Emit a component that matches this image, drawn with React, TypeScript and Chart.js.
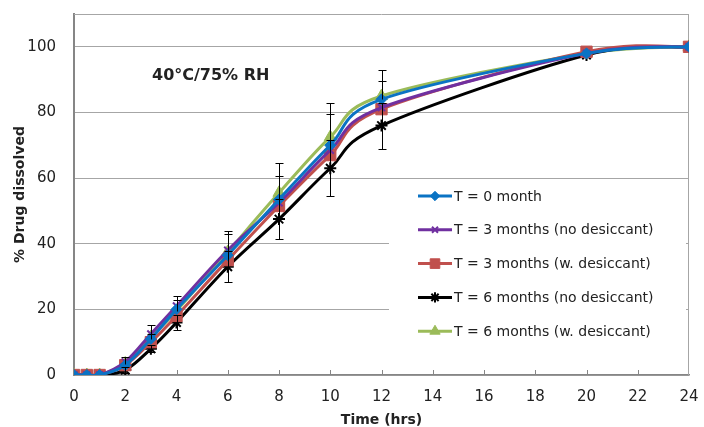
import React, { useEffect, useRef } from 'react';
import { Chart, registerables } from 'chart.js';
import * as helpers from 'chart.js/helpers';

Chart.register(...registerables);

// ---- data ----
const timeHrs = [0, 0.5, 1, 2, 3, 4, 6, 8, 10, 12, 20, 24];
const t0Month = [0, 0, 0, 3, 11, 20, 36.5, 53.5, 70, 84, 98, 100];
const t3NoDesiccant = [0, 0, 0, 4, 12.5, 21, 38, 52.5, 68.5, 81.5, 98, 100];
const t3WithDesiccant = [0, 0, 0, 3, 10, 18, 35, 51.5, 67, 81, 98.5, 100];
const t6NoDesiccant = [0, 0, 0, 1.5, 8, 16, 33, 47.5, 63, 76, 97.5, 100];
const t6WithDesiccant = [0, 0, 0, 3.5, 11.5, 19.5, 37.5, 55.5, 72.5, 85, 98, 100];

const t0ErrPlus = [0, 0, 0, 0, 1.5, 3, 6.4, 7, 9.6, 5.7, 0, 0];
const t6WithErrPlus = [0, 0, 0, 2, 3.7, 4.5, 6.5, 9, 10.5, 8, 0, 0];
const t6NoErr = [0, 0, 0, 1, 1, 2.2, 4.7, 6.2, 8.6, 7, 0, 0];

const seriesLabels = [
  'T = 0 month',
  'T = 3 months (no desiccant)',
  'T = 3 months (w. desiccant)',
  'T = 6 months (no desiccant)',
  'T = 6 months (w. desiccant)',
];
const xTicks = [0, 2, 4, 6, 8, 10, 12, 14, 16, 18, 20, 22, 24];
const yTicks = [0, 20, 40, 60, 80, 100];
const chartNote = '40°C/75% RH';
const xTitle = 'Time (hrs)';
const yTitle = '% Drug dissolved';

const FONT = '"DejaVu Sans", Verdana, sans-serif';

const styles = [
  { color: '#0a73c4', pointStyle: 'rectRot', radius: 5.5, fill: true },
  { color: '#7030a0', pointStyle: 'crossRot', radius: 5, fill: false },
  { color: '#c0504d', pointStyle: 'rect', radius: 8, fill: true },
  { color: '#000000', pointStyle: 'star', radius: 6, fill: false },
  { color: '#9bbb59', pointStyle: 'triangle', radius: 7, fill: true },
];
const seriesValues = [t0Month, t3NoDesiccant, t3WithDesiccant, t6NoDesiccant, t6WithDesiccant];
const errorSpecs = [
  { series: 0, err: t0ErrPlus, minus: false },
  { series: 4, err: t6WithErrPlus, minus: false },
  { series: 3, err: t6NoErr, minus: true },
];

// Excel-style smoothing: Bezier control points at +-(next - prev)/6
const smoothPlugin = {
  id: 'excelSmooth',
  beforeDatasetsDraw(chart: any) {
    chart.data.datasets.forEach((_: any, di: number) => {
      const meta = chart.getDatasetMeta(di);
      const pts = meta.data;
      const n = pts.length;
      for (let i = 0; i < n; i++) {
        const p = pts[i];
        const prev = pts[Math.max(0, i - 1)];
        const next = pts[Math.min(n - 1, i + 1)];
        const tx = (next.x - prev.x) / 6;
        const ty = (next.y - prev.y) / 6;
        p.cp1x = p.x - tx;
        p.cp1y = p.y - ty;
        p.cp2x = p.x + tx;
        p.cp2y = p.y + ty;
      }
      if (meta.dataset) {
        meta.dataset._pointsUpdated = true;
        meta.dataset._path = undefined;
      }
    });
  },
};

const overlayPlugin = {
  id: 'overlay',
  beforeDatasetsDraw(chart: any) {
    const { ctx, chartArea: a } = chart;
    ctx.save();
    ctx.strokeStyle = '#a6a6a6';
    ctx.lineWidth = 1;
    ctx.beginPath();
    ctx.moveTo(a.left, Math.round(a.top) + 0.5);
    ctx.lineTo(a.right, Math.round(a.top) + 0.5);
    ctx.moveTo(Math.round(a.right) - 0.5, a.top);
    ctx.lineTo(Math.round(a.right) - 0.5, a.bottom);
    ctx.stroke();
    // inward ticks on x axis
    const xs = chart.scales.x;
    ctx.strokeStyle = '#868686';
    ctx.beginPath();
    xTicks.forEach((v) => {
      if (v === 0 || v === 24) return;
      const px = Math.round(xs.getPixelForValue(v)) + 0.5;
      ctx.moveTo(px, a.bottom);
      ctx.lineTo(px, a.bottom - 5);
    });
    ctx.stroke();
    ctx.restore();
  },
  afterDatasetsDraw(chart: any) {
    const { ctx } = chart;
    const xs = chart.scales.x;
    const ys = chart.scales.y;
    ctx.save();
    ctx.strokeStyle = '#000';
    ctx.lineWidth = 1;
    errorSpecs.forEach((spec) => {
      const vals = seriesValues[spec.series];
      spec.err.forEach((e, j) => {
        if (!e) return;
        const px = Math.round(xs.getPixelForValue(timeHrs[j])) + 0.5;
        const yTop = Math.round(ys.getPixelForValue(vals[j] + e)) + 0.5;
        const yBot = Math.round(ys.getPixelForValue(spec.minus ? vals[j] - e : vals[j])) + 0.5;
        ctx.beginPath();
        ctx.moveTo(px, yTop);
        ctx.lineTo(px, yBot);
        ctx.moveTo(px - 4, yTop);
        ctx.lineTo(px + 4, yTop);
        if (spec.minus) {
          ctx.moveTo(px - 4, yBot);
          ctx.lineTo(px + 4, yBot);
        }
        ctx.stroke();
      });
    });
    ctx.restore();
  },
  afterDraw(chart: any) {
    const { ctx } = chart;
    ctx.save();
    // note
    ctx.fillStyle = '#222';
    ctx.font = `bold 16px ${FONT}`;
    ctx.textBaseline = 'middle';
    ctx.textAlign = 'left';
    ctx.fillText(chartNote, 152, 76);
    // legend
    ctx.fillStyle = '#ffffff';
    ctx.fillRect(389, 181, 297, 165);
    const startY = 196;
    const step = 33.8;
    seriesLabels.forEach((label, i) => {
      const st = styles[i];
      const y = startY + i * step;
      ctx.strokeStyle = st.color;
      ctx.lineWidth = 3;
      ctx.beginPath();
      ctx.moveTo(418, y);
      ctx.lineTo(452, y);
      ctx.stroke();
      ctx.fillStyle = st.color;
      ctx.strokeStyle = st.color;
      ctx.lineWidth = st.fill ? 1 : 2;
      (helpers as any).drawPoint(ctx, { pointStyle: st.pointStyle, radius: st.radius * 0.85, rotation: 0, borderWidth: st.fill ? 1 : 2 }, 435, y);
      ctx.fillStyle = '#222';
      ctx.font = `14px ${FONT}`;
      ctx.textAlign = 'left';
      ctx.textBaseline = 'middle';
      ctx.fillText(label, 454, y + 1);
    });
    ctx.restore();
  },
};

export default function App() {
  const ref = useRef<HTMLCanvasElement>(null);
  useEffect(() => {
    if (!ref.current) return;
    Chart.defaults.font.family = FONT;
    const datasets = seriesLabels.map((label, i) => ({
      label,
      data: timeHrs.map((t, j) => ({ x: t, y: seriesValues[i][j] })),
      borderColor: styles[i].color,
      backgroundColor: styles[i].color,
      pointBackgroundColor: styles[i].color,
      pointBorderColor: styles[i].color,
      pointStyle: styles[i].pointStyle,
      pointRadius: styles[i].radius,
      pointBorderWidth: styles[i].fill ? 1 : 2,
      borderWidth: 3,
      tension: 0.4,
      fill: false,
    }));
    const chart = new Chart(ref.current, {
      type: 'line',
      data: { datasets },
      plugins: [smoothPlugin, overlayPlugin],
      options: {
        animation: false,
        responsive: false,
        devicePixelRatio: 1,
        layout: { padding: { top: 14, right: 15, left: 0, bottom: 0 } },
        plugins: { legend: { display: false }, tooltip: { enabled: false } },
        scales: {
          x: {
            type: 'linear',
            min: 0,
            max: 24,
            afterBuildTicks: (s: any) => { s.ticks = xTicks.map((v) => ({ value: v })); },
            afterFit: (s: any) => { s.height = 52; s.paddingLeft = 0; s.paddingRight = 0; },
            grid: { display: false, drawTicks: false },
            border: { display: true, color: '#868686', width: 1.5 },
            ticks: { padding: 13, color: '#222', font: { size: 15, family: FONT }, maxRotation: 0 },
            title: { display: true, text: xTitle, color: '#222', font: { size: 14, weight: 'bold', family: FONT, lineHeight: 1 }, padding: { top: 0, bottom: 0 } },
          },
          y: {
            type: 'linear',
            min: 0,
            max: 110,
            afterBuildTicks: (s: any) => { s.ticks = yTicks.map((v) => ({ value: v })); },
            afterFit: (s: any) => { s.width = 74; s.paddingTop = 0; s.paddingBottom = 0; },
            grid: { color: '#a6a6a6', lineWidth: 1, drawTicks: false },
            border: { display: true, color: '#868686', width: 2 },
            ticks: { padding: 18, color: '#222', font: { size: 15, family: FONT } },
            title: { display: true, text: yTitle, color: '#222', font: { size: 14, weight: 'bold', family: FONT }, padding: { top: 12, bottom: 0 } },
          },
        },
      } as any,
    });
    return () => chart.destroy();
  }, []);
  return (
    <div style={{ position: 'absolute', left: 0, top: 0, width: 704, height: 427, background: '#fff' }}>
      <canvas ref={ref} width={704} height={427} style={{ width: 704, height: 427, display: 'block' }} />
    </div>
  );
}
